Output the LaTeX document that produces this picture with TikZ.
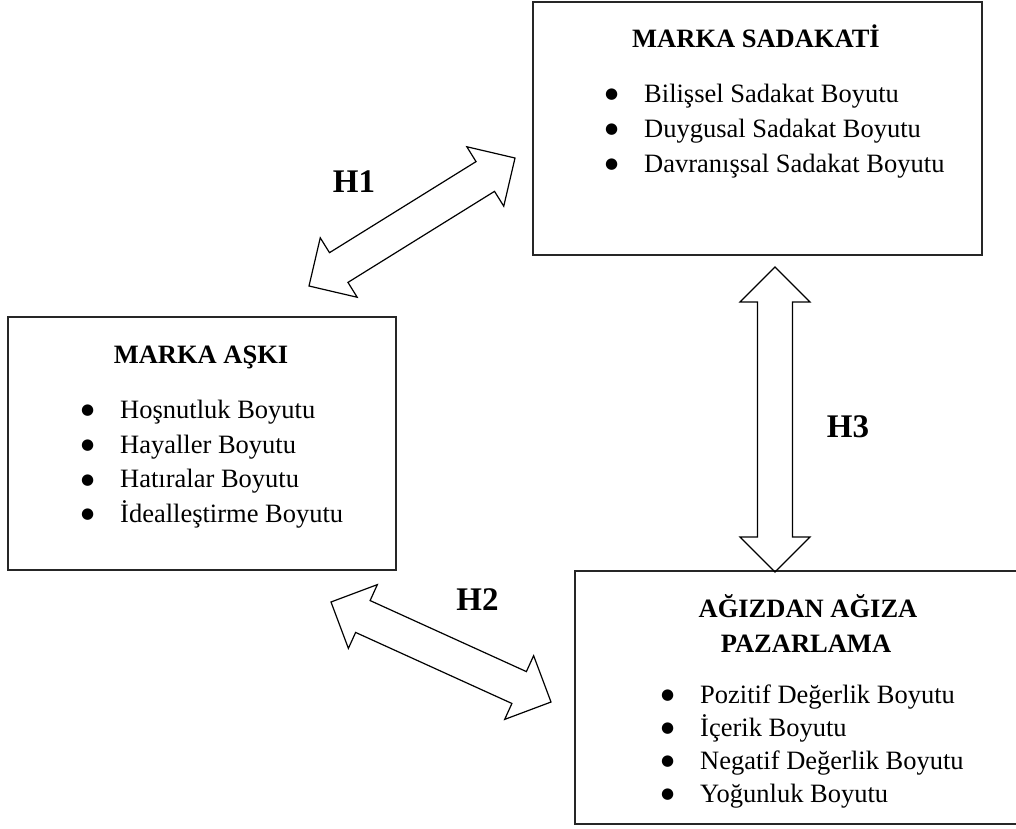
\documentclass[tikz,border=0pt]{standalone}
\usepackage{fontspec}
\setmainfont{Liberation Serif}
\newfontfamily\symfont{DejaVu Sans}
\usetikzlibrary{calc}

\tikzset{
  box/.style={draw=black!85,line width=1.3pt,inner sep=0pt},
  title/.style={font=\fontsize{26.5}{34}\selectfont\bfseries,anchor=base,inner sep=0pt},
  item/.style={font=\fontsize{26.5}{34}\selectfont,anchor=base west,inner sep=0pt,
    execute at begin node={\makebox[39pt][l]{\raisebox{3.5pt}{\symfont\fontsize{15}{15}\selectfont ●}}}},
  hlabel/.style={font=\fontsize{33}{40}\selectfont\bfseries,anchor=base,inner sep=0pt},
  blockline/.style={draw=black,line width=1.2pt,line join=miter}
}

% hollow double-headed block arrow between two named points
\newcommand{\blockarrow}[2]{%
  \draw[blockline] (#1)
    -- ($(#1)!35pt!(#2)!35pt!90:(#2)$)
    -- ($(#1)!35pt!(#2)!17.5pt!90:(#2)$)
    -- ($(#2)!35pt!(#1)!17.5pt!-90:(#1)$)
    -- ($(#2)!35pt!(#1)!35pt!-90:(#1)$)
    -- (#2)
    -- ($(#2)!35pt!(#1)!35pt!90:(#1)$)
    -- ($(#2)!35pt!(#1)!17.5pt!90:(#1)$)
    -- ($(#1)!35pt!(#2)!17.5pt!-90:(#2)$)
    -- ($(#1)!35pt!(#2)!35pt!-90:(#2)$)
    -- cycle;}

\begin{document}
\begin{tikzpicture}[x=1pt,y=-1pt]
  \useasboundingbox (0,0) rectangle (1016,828);
  % boxes
  \node[box,minimum width=449pt,minimum height=253pt] (sadakat) at (757.5,128.5) {};
  \node[box,minimum width=388pt,minimum height=253pt] (ask) at (202,443.5) {};
  \node[box,minimum width=443pt,minimum height=253pt] (pazarlama) at (796.5,697.5) {};

  % marka sadakati
  \node[title] (sadakattitle) at (756,47) {MARKA SADAKATİ};
  \node[item] (bilissel) at (605,102) {Bilişsel Sadakat Boyutu};
  \node[item] (duygusal) at (605,137) {Duygusal Sadakat Boyutu};
  \node[item] (davranissal) at (605,172) {Davranışsal Sadakat Boyutu};

  % marka aski
  \node[title] (asktitle) at (201,363) {MARKA AŞKI};
  \node[item] (hosnutluk) at (81,418) {Hoşnutluk Boyutu};
  \node[item] (hayaller) at (81,453) {Hayaller Boyutu};
  \node[item] (hatiralar) at (81,487.5) {Hatıralar Boyutu};
  \node[item] (ideal) at (81,522) {İdealleştirme Boyutu};

  % agizdan agiza pazarlama
  \node[title] (pazartitlea) at (808,617) {AĞIZDAN AĞIZA};
  \node[title] (pazartitleb) at (806,652) {PAZARLAMA};
  \node[item] (pozitif) at (661,703) {Pozitif Değerlik Boyutu};
  \node[item] (icerik) at (661,736) {İçerik Boyutu};
  \node[item] (negatif) at (661,769) {Negatif Değerlik Boyutu};
  \node[item] (yogunluk) at (661,802) {Yoğunluk Boyutu};

  % arrows
  \coordinate (h1a) at (309,286);
  \coordinate (h1b) at (515,158);
  \coordinate (h2a) at (331,602);
  \coordinate (h2b) at (551,702);
  \coordinate (h3a) at (775,267);
  \coordinate (h3b) at (775,572);
  \blockarrow{h1a}{h1b}
  \blockarrow{h2a}{h2b}
  \blockarrow{h3a}{h3b}

  \node[hlabel] (hone) at (354,192) {H1};
  \node[hlabel] (htwo) at (477.5,610) {H2};
  \node[hlabel] (hthree) at (848,437) {H3};
\end{tikzpicture}
\end{document}
